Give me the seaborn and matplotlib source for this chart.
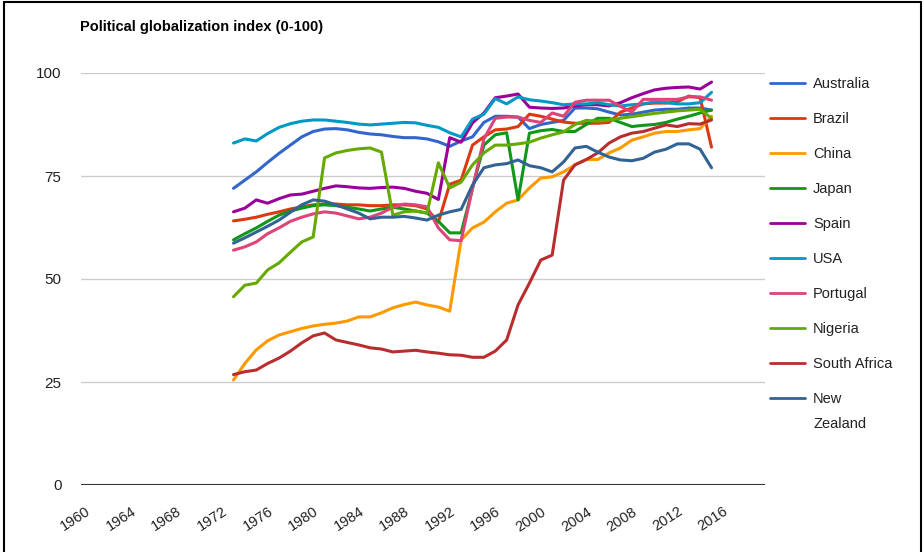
import pandas as pd
import matplotlib.pyplot as plt
import seaborn as sns
from matplotlib.lines import Line2D

# Datos: indice de globalizacion politica 1973-2015
years = list(range(1973, 2016))

countries = ["Australia", "Brazil", "China", "Japan", "Spain", "USA",
             "Portugal", "Nigeria", "South Africa", "New Zealand"]
colors = ["#3366cc", "#dc3912", "#ff9900", "#109618", "#990099", "#0099c6",
          "#dd4477", "#66aa00", "#b82e2e", "#316395"]

australia = [72.0, 74.0, 76.0, 78.3, 80.5, 82.5, 84.5, 85.8, 86.4, 86.5,
             86.2, 85.6, 85.2, 85.0, 84.6, 84.3, 84.3, 84.0, 83.3, 82.2,
             83.5, 84.5, 88.0, 89.5, 89.5, 89.3, 86.5, 87.5, 88.0, 88.5,
             91.5, 91.5, 91.3, 90.5, 89.8, 90.0, 90.5, 91.0, 91.2, 91.2,
             91.5, 91.5, 91.0]
brazil = [64.1, 64.5, 65.0, 65.7, 66.3, 67.0, 67.5, 68.0, 68.2, 68.2,
          68.0, 68.0, 67.8, 67.8, 68.0, 68.0, 67.8, 67.0, 63.8, 73.0,
          74.0, 82.5, 84.5, 86.2, 86.4, 87.0, 90.0, 89.5, 88.8, 88.1,
          87.8, 87.8, 87.8, 88.0, 90.5, 91.5, 92.5, 92.7, 92.7, 93.0,
          94.4, 94.0, 82.0]
china = [25.5, 29.5, 32.8, 35.0, 36.4, 37.2, 38.0, 38.6, 39.0, 39.3,
         39.8, 40.8, 40.8, 41.8, 43.0, 43.8, 44.4, 43.7, 43.2, 42.2,
         59.5, 62.4, 63.8, 66.3, 68.4, 69.2, 72.1, 74.5, 74.8, 76.0,
         77.7, 79.0, 79.0, 80.6, 81.8, 83.7, 84.5, 85.4, 85.8, 85.8,
         86.2, 86.5, 89.5]
japan = [59.5, 61.0, 62.4, 64.0, 65.5, 66.5, 67.2, 67.8, 68.0, 67.8,
         67.4, 67.0, 66.5, 67.0, 67.4, 67.0, 66.5, 66.0, 64.0, 61.2,
         61.2, 72.0, 82.5, 85.0, 85.5, 69.2, 85.4, 86.0, 86.3, 85.8,
         85.8, 87.5, 89.0, 89.0, 88.0, 87.0, 87.3, 87.5, 88.0, 88.8,
         89.5, 90.3, 91.0]
spain = [66.3, 67.2, 69.2, 68.4, 69.5, 70.4, 70.6, 71.3, 72.0, 72.6,
         72.4, 72.1, 72.0, 72.2, 72.3, 72.0, 71.3, 70.8, 69.3, 84.3,
         83.2, 87.9, 90.3, 94.0, 94.4, 94.9, 91.7, 91.5, 91.4, 91.5,
         92.0, 92.3, 92.3, 92.0, 92.8, 94.0, 95.0, 95.9, 96.3, 96.5,
         96.6, 96.1, 97.8]
usa = [83.0, 84.0, 83.5, 85.3, 86.8, 87.7, 88.3, 88.6, 88.6, 88.3,
       88.0, 87.6, 87.4, 87.6, 87.8, 88.0, 87.9, 87.3, 86.8, 85.5,
       84.5, 88.8, 90.0, 93.8, 92.5, 94.2, 93.5, 93.2, 92.8, 92.3,
       92.5, 92.5, 92.8, 92.3, 92.0, 92.3, 92.5, 93.0, 92.8, 92.5,
       92.5, 92.8, 95.3]
portugal = [57.0, 57.8, 59.0, 61.0, 62.4, 64.0, 65.0, 65.8, 66.3, 66.0,
            65.3, 64.6, 65.0, 66.0, 67.4, 68.2, 68.0, 67.5, 62.4, 59.5,
            59.3, 72.0, 84.0, 89.0, 89.3, 89.3, 88.5, 88.0, 90.3, 89.5,
            92.9, 93.4, 93.4, 93.4, 91.9, 90.5, 93.6, 93.6, 93.6, 93.6,
            94.2, 94.2, 93.4]
nigeria = [45.7, 48.5, 49.0, 52.2, 53.9, 56.5, 59.0, 60.2, 79.4, 80.6,
           81.2, 81.6, 81.8, 80.8, 65.5, 66.3, 66.5, 66.0, 78.2, 72.1,
           73.5, 77.7, 80.6, 82.5, 82.5, 82.8, 83.2, 84.2, 85.0, 85.7,
           87.5, 88.5, 88.3, 88.6, 89.0, 89.4, 89.8, 90.2, 90.5, 90.8,
           91.0, 91.2, 89.0]
south_africa = [26.8, 27.5, 27.9, 29.5, 30.8, 32.5, 34.5, 36.2, 36.9, 35.2,
                34.6, 34.0, 33.3, 33.0, 32.3, 32.5, 32.7, 32.3, 32.0, 31.6,
                31.5, 31.0, 31.0, 32.5, 35.2, 43.7, 49.0, 54.6, 55.8, 74.0,
                77.7, 79.0, 80.6, 83.0, 84.5, 85.4, 85.8, 86.6, 87.4, 87.0,
                87.7, 87.6, 88.6]
new_zealand = [58.7, 60.0, 61.4, 62.8, 64.3, 66.2, 68.0, 69.2, 68.9, 68.0,
               67.0, 66.0, 64.6, 65.0, 65.0, 65.2, 64.8, 64.3, 65.5, 66.3,
               66.9, 72.8, 77.0, 77.7, 78.0, 78.9, 77.5, 77.0, 76.0, 78.4,
               81.8, 82.2, 80.8, 79.6, 78.9, 78.7, 79.3, 80.8, 81.5, 82.8,
               82.8, 81.5, 77.0]

x_ticks = list(range(1960, 2017, 4))
y_ticks = [0, 25, 50, 75, 100]

df = pd.DataFrame({
    "Year": years,
    "Australia": australia, "Brazil": brazil, "China": china,
    "Japan": japan, "Spain": spain, "USA": usa, "Portugal": portugal,
    "Nigeria": nigeria, "South Africa": south_africa,
    "New Zealand": new_zealand,
})
df = df.melt(id_vars="Year", var_name="Country", value_name="Index")

sns.set_style("white")
plt.rcParams["font.family"] = ["Liberation Sans", "DejaVu Sans"]

fig = plt.figure(figsize=(9.24, 5.52), dpi=100)
ax = fig.add_axes([81 / 924, 1 - 485 / 552, 684 / 924, 412 / 552])

sns.lineplot(data=df, x="Year", y="Index", hue="Country", hue_order=countries,
             palette=colors, linewidth=2.2, ax=ax, legend=False)

ax.set_xlim(1959.6, 2019.7)
ax.set_ylim(0, 100)
ax.set_yticks(y_ticks)
ax.set_yticklabels([str(v) for v in y_ticks], fontsize=11, color="#222222")
ax.set_xticks(x_ticks)
ax.set_xticklabels([str(v) for v in x_ticks], rotation=33, ha="right",
                   rotation_mode="anchor", fontsize=10.5, color="#222222")
ax.tick_params(axis="both", length=0)
ax.tick_params(axis="x", pad=14)
ax.tick_params(axis="y", pad=14)
ax.set_xlabel("")
ax.set_ylabel("")
for v in y_ticks[1:]:
    ax.axhline(v, color="#cccccc", linewidth=1, zorder=0)
ax.axhline(0, color="#333333", linewidth=1.5, zorder=3)
for s in ax.spines.values():
    s.set_visible(False)

fig.text(80 / 924, 1 - 27 / 552, "Political globalization index (0-100)",
         fontsize=10.5, fontweight="bold", va="center", color="#000000")

# Leyenda (New Zealand partido en dos lineas como en el original)
handles = [Line2D([0], [0], color=c, linewidth=2) for c in colors]
labels = countries[:-1] + ["New"]
leg = fig.legend(handles, labels, loc="upper left",
                 bbox_to_anchor=(764 / 924, 1 - 71 / 552), frameon=False,
                 fontsize=10.5, handlelength=2.4, handletextpad=0.55,
                 labelspacing=1.44, borderaxespad=0)
for t in leg.get_texts():
    t.set_color("#222222")
fig.text(813 / 924, 1 - 424 / 552, "Zealand", fontsize=10.5,
         color="#222222", va="center")

# Marco negro
fig.add_artist(Line2D([0.004, 0.004], [0, 0.997], color="black", lw=1.5,
                      transform=fig.transFigure))
fig.add_artist(Line2D([0.004, 0.997], [0.997, 0.997], color="black", lw=1.5,
                      transform=fig.transFigure))
fig.add_artist(Line2D([0.997, 0.997], [0, 0.997], color="black", lw=1.5,
                      transform=fig.transFigure))

fig.savefig("out.png", dpi=100)
